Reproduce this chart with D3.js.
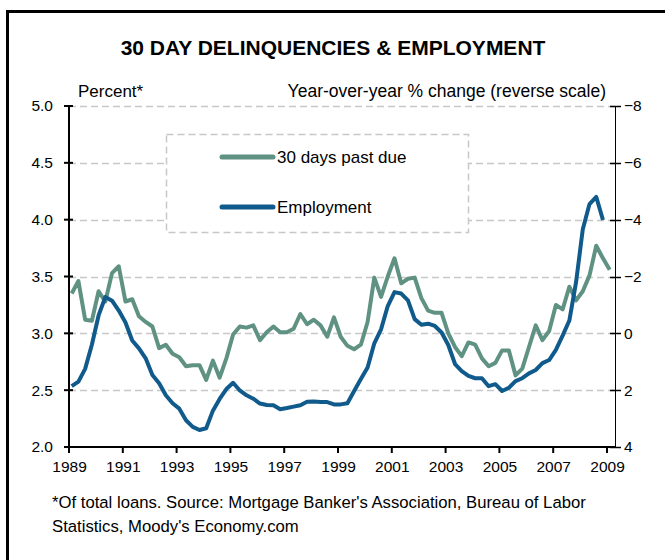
<!DOCTYPE html>
<html>
<head>
<meta charset="utf-8">
<script src="https://cdn.jsdelivr.net/npm/d3@7"></script>
<style>
  html, body { margin: 0; padding: 0; background: #fff; }
  svg { display: block; font-family: "Liberation Sans", Arial, sans-serif; }
</style>
</head>
<body>
<svg id="chart" width="665" height="560"></svg>
<script>
// 30-day mortgage delinquency rate, percent of total loans, quarterly 1989Q1–2009Q1
const delinquencyStart = 1989;
const delinquency = [
  3.35, 3.46, 3.12, 3.11, 3.37, 3.28, 3.53, 3.59, 3.28, 3.30,
  3.15, 3.10, 3.06, 2.87, 2.90, 2.82, 2.79, 2.71, 2.72, 2.72,
  2.59, 2.76, 2.61, 2.78, 2.99, 3.06, 3.05, 3.07, 2.94, 3.01,
  3.06, 3.01, 3.01, 3.04, 3.17, 3.08, 3.12, 3.07, 2.97, 3.14,
  2.97, 2.89, 2.86, 2.90, 3.10, 3.49, 3.32, 3.50, 3.66, 3.44,
  3.48, 3.49, 3.31, 3.20, 3.18, 3.18, 3.00, 2.88, 2.80, 2.92,
  2.90, 2.78, 2.71, 2.74, 2.85, 2.85, 2.63, 2.69, 2.88, 3.07,
  2.94, 3.02, 3.25, 3.21, 3.41, 3.29, 3.37, 3.51, 3.77, 3.66,
  3.56
];

// Employment, year-over-year % change, quarterly 1989Q1–2008Q4 (plotted on a reversed scale)
const employmentStart = 1989;
const employment = [
  1.86, 1.70, 1.25, 0.40, -0.63, -1.28, -1.15, -0.80, -0.38, 0.25,
  0.53, 0.88, 1.47, 1.76, 2.18, 2.46, 2.65, 3.06, 3.29, 3.40,
  3.34, 2.72, 2.31, 1.96, 1.74, 2.01, 2.18, 2.30, 2.47, 2.52,
  2.53, 2.67, 2.63, 2.58, 2.53, 2.41, 2.40, 2.42, 2.42, 2.50,
  2.50, 2.46, 2.03, 1.61, 1.20, 0.35, -0.14, -0.96, -1.45, -1.40,
  -1.16, -0.50, -0.30, -0.34, -0.26, -0.03, 0.41, 1.08, 1.33, 1.50,
  1.58, 1.58, 1.86, 1.79, 2.03, 1.92, 1.68, 1.58, 1.41, 1.29,
  1.05, 0.94, 0.58, 0.08, -0.45, -1.80, -3.66, -4.55, -4.80, -3.99
];

const yearTicks = [1989, 1991, 1993, 1995, 1997, 1999, 2001, 2003, 2005, 2007, 2009];
const leftTicks = [2.0, 2.5, 3.0, 3.5, 4.0, 4.5, 5.0];
const rightTicks = [-8, -6, -4, -2, 0, 2, 4];

const seriesNames = ["30 days past due", "Employment"];
const seriesColors = ["#5f9282", "#115b8c"];

const titleText = "30 DAY DELINQUENCIES & EMPLOYMENT";
const leftUnit = "Percent*";
const rightUnit = "Year-over-year % change (reverse scale)";
const footnoteLines = [
  "*Of total loans. Source: Mortgage Banker's Association, Bureau of Labor",
  "Statistics, Moody's Economy.com"
];

// Quarter index -> fractional year (mid-quarter-ish placement)
const quarterDate = (start, i) => start + 0.1 + i * 0.25;

const svg = d3.select("#chart");
const plot = { left: 69, right: 615, top: 106, bottom: 447 };

const x = d3.scaleLinear().domain([1989, 2009.3]).range([plot.left, plot.left + (2009.3 - 1989) * 26.9]);
const yL = d3.scaleLinear().domain([2, 5]).range([plot.bottom, plot.top]);
const yR = d3.scaleLinear().domain([4, -8]).range([plot.bottom, plot.top]);

// Outer frame (left and top edges visible)
svg.append("path")
  .attr("d", `M7.5,${560} L7.5,11.5 L${665},11.5`)
  .attr("fill", "none").attr("stroke", "#000").attr("stroke-width", 3);

// Title
svg.append("text")
  .attr("x", 333).attr("y", 55)
  .attr("text-anchor", "middle")
  .attr("font-size", 21).attr("font-weight", "bold")
  .text(titleText);

// Axis unit labels
svg.append("text").attr("x", 78).attr("y", 97).attr("font-size", 17).text(leftUnit);
svg.append("text").attr("x", 606).attr("y", 97).attr("text-anchor", "end").attr("font-size", 17.5).text(rightUnit);

// Dashed horizontal gridlines
svg.append("g").selectAll("line")
  .data(leftTicks.filter(d => d > 2))
  .join("line")
  .attr("x1", plot.left).attr("x2", plot.right)
  .attr("y1", d => Math.round(yL(d)) + 0.5).attr("y2", d => Math.round(yL(d)) + 0.5)
  .attr("stroke", "#c8c8c8").attr("stroke-width", 1.5)
  .attr("stroke-dasharray", "7,4");

// Lines
const delinqLine = d3.line()
  .x((d, i) => x(quarterDate(delinquencyStart, i)))
  .y(d => yL(d));
const emplLine = d3.line()
  .x((d, i) => x(quarterDate(employmentStart, i)))
  .y(d => yR(d));

// Legend box (white fill, dashed border) sits above the gridlines
const legend = svg.append("g");
legend.append("rect")
  .attr("x", 166.5).attr("y", 134.5).attr("width", 302).attr("height", 98)
  .attr("fill", "#fff").attr("stroke", "#c8c8c8").attr("stroke-width", 1.5)
  .attr("stroke-dasharray", "7,4");
seriesNames.forEach((name, k) => {
  const ly = 157 + k * 50;
  legend.append("line")
    .attr("x1", 222).attr("x2", 273).attr("y1", ly).attr("y2", ly)
    .attr("stroke", seriesColors[k]).attr("stroke-width", 5).attr("stroke-linecap", "round");
  legend.append("text")
    .attr("x", 277).attr("y", ly + 6).attr("font-size", 17).text(name);
});

svg.append("path").datum(delinquency)
  .attr("d", delinqLine).attr("fill", "none")
  .attr("stroke", seriesColors[0]).attr("stroke-width", 4).attr("stroke-linejoin", "round");
svg.append("path").datum(employment)
  .attr("d", emplLine).attr("fill", "none")
  .attr("stroke", seriesColors[1]).attr("stroke-width", 4).attr("stroke-linejoin", "round");

// Left axis
const leftAxis = d3.axisLeft(yL).tickValues(leftTicks).tickFormat(d3.format(".1f")).tickSize(0);
const gL = svg.append("g").attr("transform", `translate(${plot.left},0)`).call(leftAxis);
gL.select(".domain").remove();
gL.selectAll("text").attr("font-size", 15.5).attr("fill", "#000").attr("x", -16).attr("font-family", "Liberation Sans, Arial, sans-serif");
svg.append("line").attr("x1", plot.left).attr("x2", plot.left).attr("y1", plot.top).attr("y2", plot.bottom + 1)
  .attr("stroke", "#000").attr("stroke-width", 2);
svg.append("g").selectAll("line").data(leftTicks).join("line")
  .attr("x1", plot.left - 5).attr("x2", plot.left + 4)
  .attr("y1", d => yL(d)).attr("y2", d => yL(d))
  .attr("stroke", "#000").attr("stroke-width", 2);

// Right axis
const rightAxis = d3.axisRight(yR).tickValues(rightTicks).tickFormat(d3.format("d")).tickSize(0);
const gR = svg.append("g").attr("transform", `translate(${plot.right},0)`).call(rightAxis);
gR.select(".domain").remove();
gR.selectAll("text").attr("font-size", 15.5).attr("fill", "#000").attr("x", 9).attr("font-family", "Liberation Sans, Arial, sans-serif");
svg.append("line").attr("x1", plot.right + 0.5).attr("x2", plot.right + 0.5).attr("y1", plot.top).attr("y2", plot.bottom)
  .attr("stroke", "#000").attr("stroke-width", 1);
svg.append("g").selectAll("line").data(rightTicks).join("line")
  .attr("x1", plot.right - 5).attr("x2", plot.right + 6)
  .attr("y1", d => Math.round(yR(d)) + 0.5).attr("y2", d => Math.round(yR(d)) + 0.5)
  .attr("stroke", "#000").attr("stroke-width", 1.5);

// Bottom axis
const bottomAxis = d3.axisBottom(x).tickValues(yearTicks).tickFormat(d3.format("d")).tickSize(0);
const gB = svg.append("g").attr("transform", `translate(0,${plot.bottom})`).call(bottomAxis);
gB.select(".domain").remove();
gB.selectAll("text").attr("font-size", 15.5).attr("fill", "#000").attr("y", 14).attr("font-family", "Liberation Sans, Arial, sans-serif");
svg.append("line").attr("x1", plot.left - 1).attr("x2", plot.right + 1).attr("y1", plot.bottom).attr("y2", plot.bottom)
  .attr("stroke", "#000").attr("stroke-width", 2);
svg.append("g").selectAll("line").data(yearTicks).join("line")
  .attr("x1", d => x(d)).attr("x2", d => x(d))
  .attr("y1", plot.bottom).attr("y2", plot.bottom + 6)
  .attr("stroke", "#000").attr("stroke-width", 2);

// Footnote
footnoteLines.forEach((t, k) => {
  svg.append("text").attr("x", 52).attr("y", 508 + k * 24).attr("font-size", 16.7).text(t);
});
</script>
</body>
</html>
